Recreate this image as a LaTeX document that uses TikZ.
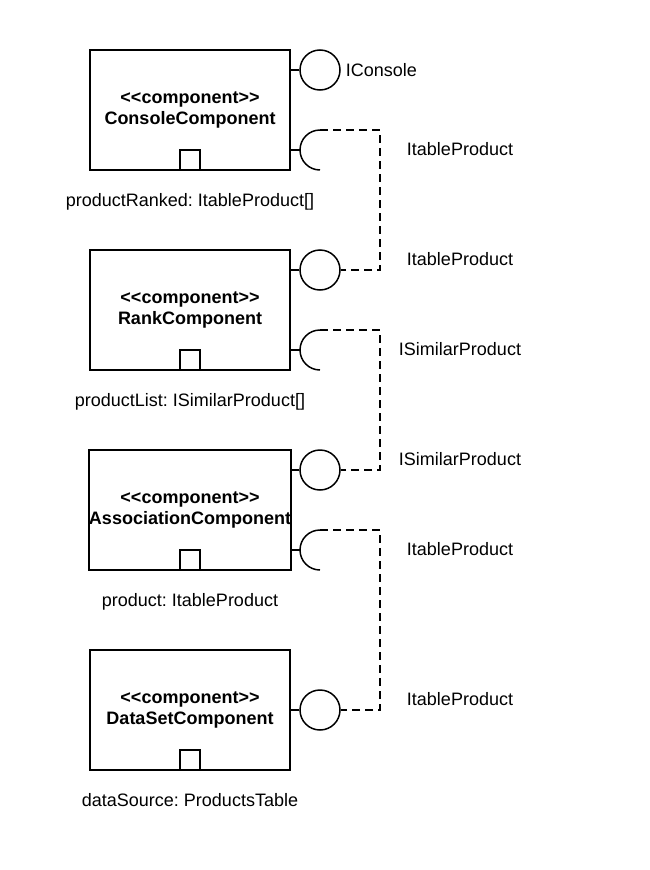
\documentclass[tikz,border=0pt]{standalone}
\usepackage{fontspec}
\setmainfont[Ligatures=NoCommon]{Liberation Sans}
\frenchspacing
\begin{document}
\begin{tikzpicture}[x=1pt,y=-1pt,
  line width=1.5pt, line join=miter,
  comp/.style={draw, rectangle, minimum width=200pt, minimum height=120pt, inner sep=0pt, align=center,
    font=\bfseries\fontsize{18}{21}\selectfont},
  port/.style={draw, rectangle, minimum size=20pt, inner sep=0pt, fill=white},
  ball/.style={draw, circle, minimum size=40pt, inner sep=0pt, fill=white},
  lbl/.style={anchor=base, inner sep=0pt, font=\fontsize{18}{21}\selectfont},
  dep/.style={dash pattern=on 8pt off 5pt}
]
\useasboundingbox (0,0) rectangle (650,870);
\fill[white] (0,0) rectangle (650,870);

% components
\node[comp] (c1) at (190,110) {<{}<component>{}>\\ConsoleComponent};
\node[comp] (c2) at (190,310) {<{}<component>{}>\\RankComponent};
\node[comp] (c3) at (190,510) {<{}<component>{}>\\AssociationComponent};
\node[comp] (c4) at (190,710) {<{}<component>{}>\\DataSetComponent};

% ports
\node[port] (p1) at (190,160) {};
\node[port] (p2) at (190,360) {};
\node[port] (p3) at (190,560) {};
\node[port] (p4) at (190,760) {};

% provided interfaces (balls)
\node[ball] (b1) at (320,70) {};
\node[ball] (b2) at (320,270) {};
\node[ball] (b3) at (320,470) {};
\node[ball] (b4) at (320,710) {};
\draw (c1.east |- b1) -- (b1.west);
\draw (c2.east |- b2) -- (b2.west);
\draw (c3.east |- b3) -- (b3.west);
\draw (c4.east |- b4) -- (b4.west);

% required interfaces (sockets)
\coordinate (s1) at (320,130);
\coordinate (s2) at (320,330);
\coordinate (s3) at (320,530);
\draw (290,150) -- (300,150);
\draw (s1) arc[start angle=90, end angle=270, radius=20pt];
\draw (290,350) -- (300,350);
\draw (s2) arc[start angle=90, end angle=270, radius=20pt];
\draw (290,550) -- (300,550);
\draw (s3) arc[start angle=90, end angle=270, radius=20pt];

% dependencies
\coordinate (d1) at (380,130);
\coordinate (d2) at (380,330);
\coordinate (d3) at (380,530);
\draw[dep] (s1) -- (d1) |- (b2.east);
\draw[dep] (s2) -- (d2) |- (b3.east);
\draw[dep] (s3) -- (d3) |- (b4.east);

% interface labels
\node[lbl, anchor=base west] (l0) at (345,76) {IConsole};
\node[lbl] (l1) at (460,155) {ItableProduct};
\node[lbl] (l2) at (460,265) {ItableProduct};
\node[lbl] (l3) at (460,355) {ISimilarProduct};
\node[lbl] (l4) at (460,465) {ISimilarProduct};
\node[lbl] (l5) at (460,555) {ItableProduct};
\node[lbl] (l6) at (460,705) {ItableProduct};

% attribute labels
\node[lbl] (a1) at (190,206) {productRanked: ItableProduct[]};
\node[lbl] (a2) at (190,406) {productList: ISimilarProduct[]};
\node[lbl] (a3) at (190,606) {product: ItableProduct};
\node[lbl] (a4) at (190,806) {dataSource: ProductsTable};
\end{tikzpicture}
\end{document}
